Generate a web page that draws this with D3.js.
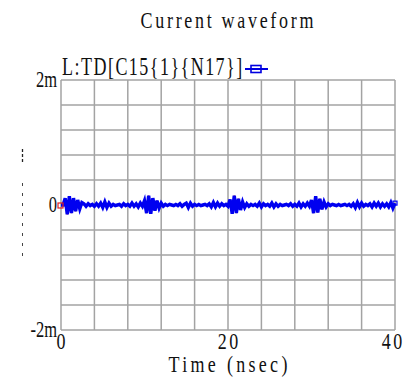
<!DOCTYPE html>
<html>
<head>
<meta charset="utf-8">
<script src="https://cdn.jsdelivr.net/npm/d3@7"></script>
<style>
  html, body { margin: 0; padding: 0; background: #fff; }
  svg { display: block; }
  text { font-family: "Liberation Serif", "DejaVu Serif", serif; fill: #111; }
</style>
</head>
<body>
<svg id="chart" width="405" height="378"></svg>
<script>
// Sampled current trace, one value every 0.25 ns (units: mA)
const sampleStep = 0.25;
const current = [
  0.00, 0.00,
  0.11, -0.15, 0.14, -0.13, 0.11, -0.10, 0.08, -0.06, 0.04,
  0.02, -0.02, 0.02, -0.01, 0.01, -0.02, 0.02, -0.02, 0.03,
  -0.04, 0.05, -0.04, 0.03, -0.02,
  0.01, -0.01, 0.00, 0.01, -0.02, 0.02, -0.01, 0.01, -0.02, 0.03, -0.02, 0.02, -0.03, 0.03, -0.02,
  0.07, -0.13, 0.15, -0.14, 0.11, -0.09, 0.07, -0.05, 0.03,
  -0.02, 0.01, -0.01, 0.01, 0.00, -0.01, 0.01, -0.01, 0.02, -0.02, 0.01,
  0.03, -0.04, 0.03, -0.02, 0.01,
  -0.01, 0.01, -0.01, 0.00, 0.01, -0.01, 0.02,
  -0.03, 0.04, -0.03, 0.03, -0.02, 0.02,
  -0.01, 0.01, -0.02,
  0.09, -0.14, 0.15, -0.13, 0.10, -0.08, 0.05, -0.04, 0.02,
  -0.02, 0.01, -0.01, 0.01, -0.02, 0.03, -0.03, 0.02, -0.01, 0.01,
  -0.02, 0.03, -0.03, 0.02, -0.02, 0.01,
  -0.01, 0.00, 0.01, -0.01, 0.02, -0.02, 0.01, -0.02, 0.03, -0.03, 0.02, -0.02, 0.03, -0.02,
  0.08, -0.13, 0.14, -0.12, 0.10, -0.07, 0.05, -0.03, 0.02,
  -0.01, 0.01, 0.00, -0.01, 0.01, -0.01, 0.00, 0.01, -0.01, 0.01, -0.02, 0.02,
  -0.04, 0.04, -0.03, 0.03, -0.02, 0.01,
  -0.01, 0.02, -0.03, 0.03, -0.02, 0.03, -0.03, 0.02, -0.02, 0.02, -0.03, 0.04, -0.05, 0.03
];
const times = current.map((_, i) => i * sampleStep);

const xTickLabels = [0, 20, 40];
const yTickLabels = [{ v: 2, label: "2m" }, { v: 0, label: "0" }, { v: -2, label: "-2m" }];
const xGrid = d3.range(0, 40.001, 4);
const yGrid = d3.range(-2, 2.001, 0.4);
const titleText = "Current waveform";
const legendText = "L:TD[C15{1}{N17}]";
const xLabelText = "Time (nsec)";

const svg = d3.select("#chart");
const x = d3.scaleLinear().domain([0, 40]).range([61, 395]);
const y = d3.scaleLinear().domain([-2, 2]).range([330, 80]);

const gridColor = "#a3a3a3";

// grid
svg.append("g").selectAll("line").data(xGrid).join("line")
  .attr("x1", d => x(d)).attr("x2", d => x(d))
  .attr("y1", y(2)).attr("y2", y(-2))
  .attr("stroke", gridColor).attr("stroke-width", 1.5);
svg.append("g").selectAll("line").data(yGrid).join("line")
  .attr("x1", x(0)).attr("x2", x(40))
  .attr("y1", d => y(d)).attr("y2", d => y(d))
  .attr("stroke", gridColor).attr("stroke-width", 1.5);

// tall, fixed-pitch text: each string is stretched to a cell width per character
function tallText(px, py, str, size, sy, anchor, pitch) {
  const t = svg.append("text")
    .attr("transform", `translate(${px},${py}) scale(1,${sy})`)
    .attr("font-size", size)
    .attr("text-anchor", anchor || "start")
    .text(str);
  if (pitch && str.length > 1) {
    t.attr("textLength", pitch * str.length).attr("lengthAdjust", "spacing");
  }
  return t;
}

tallText(227, 28, titleText, 18, 1.3, "middle", 10.8);
tallText(62, 75, legendText, 18, 1.35, "start", 10.6);

// legend swatch
const lg = svg.append("g");
lg.append("line").attr("x1", 245).attr("x2", 268).attr("y1", 69).attr("y2", 69)
  .attr("stroke", "#0000e0").attr("stroke-width", 2);
lg.append("rect").attr("x", 251).attr("y", 65.5).attr("width", 10).attr("height", 7)
  .attr("fill", "none").attr("stroke", "#0000e0").attr("stroke-width", 1.6);

// y tick labels
yTickLabels.forEach(t => tallText(57, y(t.v) + 7, t.label, 16.5, 1.42, "end"));
// x tick labels
xTickLabels.forEach(t => {
  const px = t === 40 ? x(t) - 3 : x(t);
  tallText(px, 349, String(t), 18, 1.3, "middle", 10.2);
});
tallText(228, 372, xLabelText, 18, 1.25, "middle", 10.8);

// rotated y label rendered as faint dashes
svg.append("line").attr("x1", 22.5).attr("x2", 22.5).attr("y1", 149).attr("y2", 163)
  .attr("stroke", "#222").attr("stroke-width", 1.3).attr("stroke-dasharray", "3,2");
svg.append("line").attr("x1", 22.5).attr("x2", 22.5).attr("y1", 183).attr("y2", 260)
  .attr("stroke", "#444").attr("stroke-width", 1).attr("stroke-dasharray", "3,7");

// trace
const line = d3.line().x((d, i) => x(times[i])).y(d => y(d));
svg.append("path").datum(current)
  .attr("d", line)
  .attr("fill", "none").attr("stroke", "#e02020").attr("stroke-width", 1);
svg.append("path").datum(current)
  .attr("d", line)
  .attr("fill", "none").attr("stroke", "#0000f0").attr("stroke-width", 3.4)
  .attr("stroke-linejoin", "miter");

// end markers
svg.append("rect").attr("x", x(times[0]) - 3).attr("y", y(current[0]) - 2)
  .attr("width", 5).attr("height", 5).attr("fill", "none")
  .attr("stroke", "#e02020").attr("stroke-width", 1.2);
const last = current.length - 1;
svg.append("rect").attr("x", x(times[last]) - 2).attr("y", y(current[last]) - 2)
  .attr("width", 4).attr("height", 4).attr("fill", "none")
  .attr("stroke", "#0000f0").attr("stroke-width", 1.2);
</script>
</body>
</html>
